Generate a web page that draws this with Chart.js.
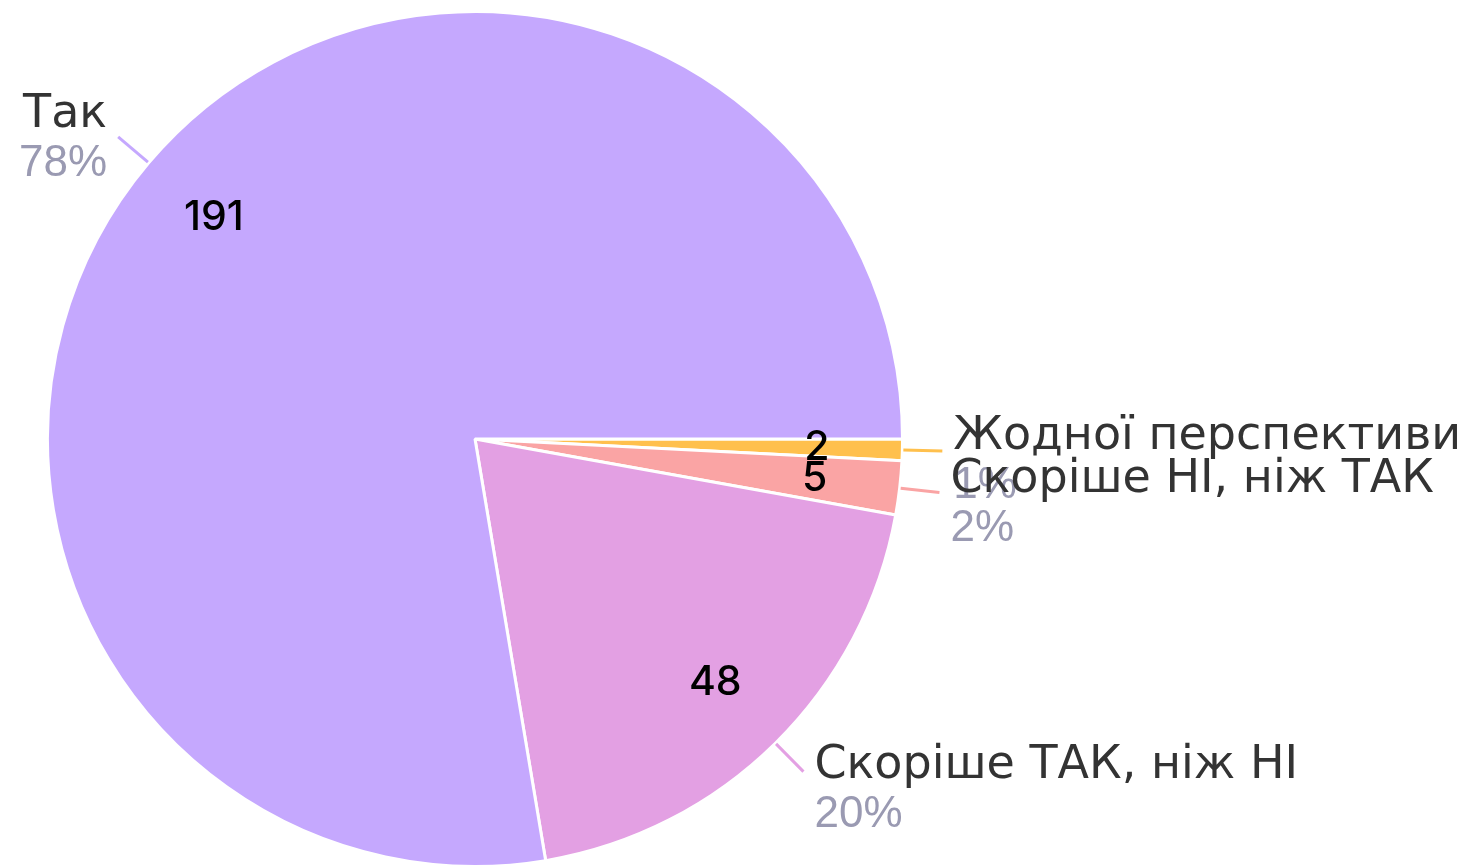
<!DOCTYPE html>
<html>
<head>
<meta charset="utf-8">
<script src="https://cdn.jsdelivr.net/npm/chart.js@4.4.0/dist/chart.umd.min.js"></script>
<style>
  body { margin: 0; background: #fff; }
  #wrap { width: 1470px; height: 868px; position: relative; }
</style>
</head>
<body>
<div id="wrap"><canvas id="piechart"></canvas></div>
<script>
// data, clockwise from 3 o'clock
var labels = ["Жодної перспективи", "Скоріше НІ, ніж ТАК", "Скоріше ТАК, ніж НІ", "Так"];
var values = [2, 5, 48, 191];
var colors = ["#FFC04D", "#FAA4A4", "#E3A0E3", "#C5A8FE"];

var total = values.reduce(function(a, b) { return a + b; }, 0);

var labelPlugin = {
  id: 'pieLabels',
  afterDatasetsDraw: function(chart) {
    var ctx = chart.ctx;
    var meta = chart.getDatasetMeta(0);
    meta.data.forEach(function(arc, i) {
      var p = arc.getProps(['x', 'y', 'startAngle', 'endAngle', 'outerRadius'], true);
      var mid = (p.startAngle + p.endAngle) / 2;
      var cos = Math.cos(mid), sin = Math.sin(mid);
      var r = p.outerRadius;

      // value inside the slice
      ctx.save();
      ctx.font = '500 41px Inter';
      ctx.fillStyle = '#000';
      ctx.textAlign = 'center';
      ctx.textBaseline = 'middle';
      ctx.fillText(String(values[i]), p.x + cos * r * 0.8, p.y + sin * r * 0.8);

      // leader line
      var x1 = p.x + cos * (r + 1), y1 = p.y + sin * (r + 1);
      var x2 = p.x + cos * (r + 40), y2 = p.y + sin * (r + 40);
      ctx.strokeStyle = colors[i];
      ctx.lineWidth = 3;
      ctx.beginPath();
      ctx.moveTo(x1, y1);
      ctx.lineTo(x2, y2);
      ctx.stroke();

      // name + percent
      var right = cos >= 0;
      var tx = right ? x2 + 11 : x2 - 11;
      var base = y2 - 2 + 12 * sin;
      ctx.textAlign = right ? 'left' : 'right';
      ctx.textBaseline = 'alphabetic';
      ctx.font = '46px "DejaVu Sans"';
      ctx.fillStyle = '#333333';
      ctx.fillText(labels[i], tx, base);
      ctx.font = '44px "Liberation Sans"';
      ctx.fillStyle = '#9A9AB2';
      ctx.fillText(Math.round(values[i] / total * 100) + '%', tx, base + 49);
      ctx.restore();
    });
  }
};

var ctx = document.getElementById("piechart");
var myChart = new Chart(ctx, {
  type: 'pie',
  data: {
    labels: labels,
    datasets: [{
      data: values,
      backgroundColor: colors,
      borderColor: '#ffffff',
      borderWidth: 3
    }]
  },
  options: {
    responsive: true,
    maintainAspectRatio: false,
    animation: false,
    rotation: 90,
    layout: {
      padding: { left: 44, right: 564, top: 10, bottom: -2 }
    },
    plugins: {
      legend: { display: false },
      tooltip: { enabled: false }
    }
  },
  plugins: [labelPlugin]
});
</script>
</body>
</html>
